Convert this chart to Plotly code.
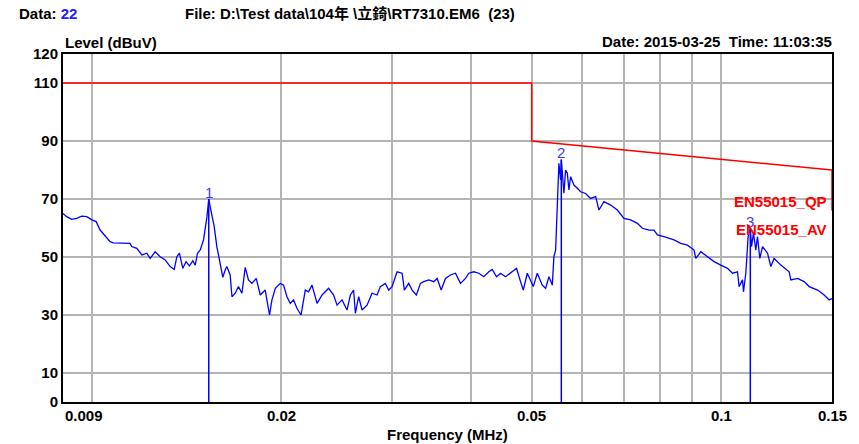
import math
import plotly.graph_objects as go

# ---- data (frequency in kHz, level in dBuV) ----
freq_khz = [9.00, 9.12, 9.29, 9.46, 9.64, 9.82, 10.00, 10.16, 10.31, 10.50, 10.69, 10.82, 11.16, 11.50,
            11.57, 11.79, 12.01, 12.23, 12.38, 12.61, 12.84, 13.08, 13.32, 13.52, 13.65, 13.78, 13.95,
            14.12, 14.29, 14.47, 14.60, 14.72, 14.87, 15.05, 15.24, 15.34, 15.46, 15.65, 15.80, 16.00,
            16.15, 16.29, 16.39, 16.59, 16.70, 16.90, 17.10, 17.32, 17.53, 17.74, 17.96, 18.25, 18.52,
            18.86, 19.16, 19.33, 19.57, 19.93, 20.17, 20.42, 20.67, 20.92, 21.18, 21.50, 21.84, 22.10,
            22.38, 22.80, 23.22, 23.78, 24.22, 24.53, 24.98, 25.44, 25.75, 26.06, 26.23, 26.55, 26.88,
            27.37, 27.88, 28.40, 28.74, 29.27, 29.63, 30.00, 30.55, 31.12, 31.38, 31.88, 32.28, 32.79,
            33.28, 33.68, 34.30, 34.94, 35.38, 35.90, 36.47, 37.14, 37.83, 38.53, 39.24, 39.72, 40.45,
            41.20, 41.96, 42.74, 43.27, 43.96, 44.61, 45.43, 46.27, 47.30, 48.00, 48.48, 49.20, 50.29,
            51.03, 51.97, 52.61, 53.25, 53.91, 54.23, 54.57, 54.91, 55.23, 55.58, 55.72, 56.25, 56.60,
            56.96, 57.29, 57.65, 58.35, 59.08, 59.80, 60.90, 62.03, 63.18, 63.94, 65.13, 66.74, 68.40,
            70.07, 71.81, 73.59, 74.96, 76.79, 78.21, 79.19, 81.13, 82.62, 84.15, 86.24, 88.40, 90.56,
            91.13, 92.81, 95.12, 97.44, 99.86, 102.34, 104.23, 106.16, 106.78, 108.12, 108.51, 109.43,
            110.36, 111.25, 111.74, 112.56, 113.51, 114.22, 115.19, 116.33, 118.49, 119.93, 121.38,
            124.40, 128.23, 129.03, 132.24, 135.47, 137.97, 142.28, 145.76, 148.46, 150.00]
level_dbuv = [65.0, 63.9, 63.0, 63.3, 64.1, 63.9, 62.8, 62.2, 59.3, 57.2, 55.3, 54.9, 54.9, 54.7,
              53.6, 53.0, 50.7, 51.3, 49.5, 51.8, 50.1, 49.0, 46.7, 45.7, 50.1, 51.3, 46.1,
              48.4, 46.9, 48.7, 47.2, 51.3, 52.4, 55.9, 63.9, 70.0, 66.2, 60.5, 53.6, 46.7,
              43.0, 45.5, 46.7, 43.8, 36.3, 37.5, 39.8, 37.5, 46.4, 42.1, 40.9, 42.6, 36.9,
              38.6, 30.0, 35.2, 39.2, 40.9, 40.3, 36.3, 34.0, 35.2, 32.3, 30.0, 38.6, 38.0,
              40.3, 34.0, 36.9, 39.2, 36.9, 33.4, 35.2, 31.7, 36.9, 38.6, 30.6, 36.3, 31.7,
              33.4, 37.5, 36.9, 39.8, 40.9, 38.6, 39.8, 44.9, 44.4, 38.6, 40.9, 38.6, 36.9,
              40.9, 41.5, 42.1, 41.5, 42.6, 38.6, 42.6, 43.8, 44.4, 40.9, 42.6, 44.4, 44.9,
              44.4, 43.2, 44.9, 45.7, 43.2, 44.4, 43.2, 44.4, 46.1, 41.5, 38.6, 44.4, 39.8,
              44.4, 40.3, 39.2, 43.2, 40.3, 50.1, 52.4, 70.8, 82.3, 76.6, 83.6, 72.0, 80.0,
              78.9, 73.1, 77.7, 74.8, 73.7, 72.5, 71.9, 70.2, 70.8, 66.2, 69.1, 67.9, 66.2,
              63.3, 62.8, 61.6, 59.9, 59.3, 59.3, 57.6, 57.0, 56.4, 55.9, 54.7, 54.1, 52.4,
              49.5, 51.8, 50.1, 48.4, 47.2, 46.1, 44.4, 44.9, 39.8, 42.1, 38.0, 44.4,
              57.0, 59.9, 53.6, 58.2, 52.4, 57.0, 49.5, 53.6, 51.3, 46.7, 49.5,
              47.2, 44.9, 42.1, 42.6, 41.5, 39.8, 38.6, 36.9, 35.2, 35.7]

limit_freq_mhz = [0.009, 0.05, 0.05, 0.15, 0.15]
limit_qp_dbuv = [110, 110, 90, 80, 66]

marker_labels = ["1", "2", "3"]
marker_freq_khz = [15.34, 55.72, 111.25]
marker_level = [70.0, 83.6, 59.9]

limit_labels = ["EN55015_QP", "EN55015_AV"]
limit_label_level = [69.3, 59.6]

x_grid_vals = [0.01, 0.02, 0.03, 0.04, 0.05, 0.06, 0.07, 0.08, 0.09, 0.1]
x_label_vals = [0.009, 0.02, 0.05, 0.1, 0.15]
x_label_text = ["0.009", "0.02", "0.05", "0.1", "0.15"]
y_tick_vals = [0, 10, 30, 50, 70, 90, 110, 120]

x_range = [0.009, 0.15]
y_range = [0, 120]

FONT = "Liberation Sans, Arial, Noto Sans CJK TC, sans-serif"
BLUE = "#0000ff"
RED = "#ff0000"

W, H = 859, 444
ML, MR, MT, MB = 63, 27, 54, 42

fig = go.Figure()

fig.add_trace(go.Scatter(
    x=[f / 1000 for f in freq_khz], y=level_dbuv, mode="lines",
    line=dict(color=BLUE, width=1.3), hoverinfo="skip", showlegend=False))

fig.add_trace(go.Scatter(
    x=limit_freq_mhz, y=limit_qp_dbuv, mode="lines",
    line=dict(color=RED, width=1.5), hoverinfo="skip", showlegend=False))

for f, lv in zip(marker_freq_khz, marker_level):
    fig.add_trace(go.Scatter(
        x=[f / 1000, f / 1000], y=[0, lv], mode="lines",
        line=dict(color=BLUE, width=1.5), hoverinfo="skip", showlegend=False))

annotations = []
for lab, f, lv in zip(marker_labels, marker_freq_khz, marker_level):
    annotations.append(dict(
        x=math.log10(f / 1000), y=lv, xref="x", yref="y", text=lab, showarrow=False,
        yanchor="middle", yshift=7, font=dict(family=FONT, size=15, color="#3a3aff")))

for lab, lv in zip(limit_labels, limit_label_level):
    annotations.append(dict(
        x=1, y=lv, xref="paper", yref="y", text="<b>" + lab + "</b>", showarrow=False,
        xanchor="right", xshift=-3, yanchor="middle",
        font=dict(family=FONT, size=15, color=RED)))

for v, t in zip(x_label_vals, x_label_text):
    anchor = "left" if v == x_range[0] else "center"
    annotations.append(dict(
        x=math.log10(v), y=0, xref="x", yref="paper", text="<b>" + t + "</b>",
        showarrow=False, xanchor=anchor, yanchor="top", yshift=-3,
        font=dict(family=FONT, size=15, color="black")))

annotations += [
    dict(x=0, y=1, xref="paper", yref="paper", text="<b>Level (dBuV)</b>", showarrow=False,
         xanchor="left", yanchor="bottom", yshift=1, font=dict(family=FONT, size=15, color="black")),
    dict(x=0.5, y=0, xref="paper", yref="paper", text="<b>Frequency (MHz)</b>", showarrow=False,
         xanchor="center", yanchor="top", yshift=-22, font=dict(family=FONT, size=15, color="black")),
]

fig.update_layout(
    width=W, height=H,
    margin=dict(l=ML, r=MR, t=MT, b=MB, autoexpand=False),
    paper_bgcolor="white", plot_bgcolor="white",
    font=dict(family=FONT, size=15, color="black"),
    xaxis=dict(type="log", range=[math.log10(x_range[0]), math.log10(x_range[1])],
               tickvals=x_grid_vals, ticktext=[""] * len(x_grid_vals), ticks="",
               showgrid=True, gridcolor="#b4b4b4", gridwidth=1.5,
               showline=True, linecolor="black", linewidth=2, mirror=True, zeroline=False),
    yaxis=dict(range=y_range, tickvals=y_tick_vals, ticks="",
               tickfont=dict(family=FONT, size=15, color="black", weight="bold"),
               showgrid=True, gridcolor="#b4b4b4", gridwidth=1.5,
               showline=True, linecolor="black", linewidth=2, mirror=True, zeroline=False),
    annotations=annotations,
)

pw, ph = W - ML - MR, H - MT - MB
def px(x):
    return (x - ML) / pw
def py(y):
    return (H - MB - y) / ph

fig.add_annotation(x=px(17), y=py(14), xref="paper", yref="paper", showarrow=False,
                   xanchor="left", yanchor="middle",
                   text="<b>Data: <span style='color:#2020ff'>22</span></b>",
                   font=dict(family=FONT, size=15, color="black"))
fig.add_annotation(x=px(183), y=py(14), xref="paper", yref="paper", showarrow=False,
                   xanchor="left", yanchor="middle",
                   text="<b>File: D:\\Test data\\104年 \\立錡\\RT7310.EM6  (23)</b>",
                   font=dict(family=FONT, size=15, color="black"))
fig.add_annotation(x=px(834), y=py(42), xref="paper", yref="paper", showarrow=False,
                   xanchor="right", yanchor="middle",
                   text="<b>Date: 2015-03-25  Time: 11:03:35</b>",
                   font=dict(family=FONT, size=15, color="black"))

fig.write_html("out.html", config={"displayModeBar": False},
               post_script="document.body.style.margin='0';")
